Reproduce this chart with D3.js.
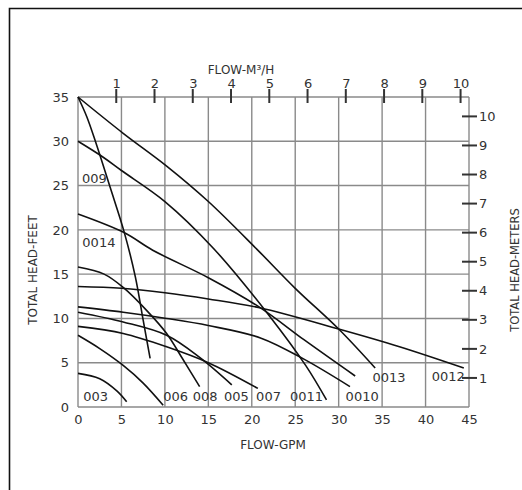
<!DOCTYPE html>
<html>
<head>
<meta charset="utf-8">
<script src="https://cdn.jsdelivr.net/npm/d3@7/dist/d3.min.js"></script>
<style>
  html, body { margin: 0; padding: 0; background: #fff; }
  svg { display: block; }
  text { font-family: "DejaVu Sans", sans-serif; fill: #333; }
</style>
</head>
<body>
<svg id="chart" width="522" height="490"></svg>
<script>
// ---- data ----
const gpmTicks = [0, 5, 10, 15, 20, 25, 30, 35, 40, 45];
const feetTicks = [0, 5, 10, 15, 20, 25, 30, 35];
const m3hTicks = [1, 2, 3, 4, 5, 6, 7, 8, 9, 10];
const meterTicks = [1, 2, 3, 4, 5, 6, 7, 8, 9, 10];

// pump curves: [flow GPM, head feet]
const curve009  = [[0,35],[1,32.8],[2,30],[3.7,24.8],[5.3,19.8],[6.6,14.7],[7.5,9.8],[8.3,5.5]];
const curve0013 = [[0,35],[5.2,30.9],[10.2,27.2],[15,23.2],[20.6,17.8],[25,13.4],[30,8.8],[34.2,4.4]];
const curve0011 = [[0,30],[2.9,28.2],[5,26.7],[10,23.2],[15.6,17.9],[22.1,10.2],[26.2,4.7],[28.6,0.8]];
const curve0014 = [[0,21.8],[5.3,19.7],[8.6,17.7],[15,14.6],[21,11.2],[26,7.6],[31.9,3.5]];
const curve008  = [[0,15.8],[3,15],[5.2,13.5],[8,10.8],[10.2,8.3],[12,5.5],[14,2.3]];
const curve0012 = [[0,13.6],[5,13.4],[10,12.9],[15,12.2],[20.9,11.2],[30,8.8],[37,6.8],[44.4,4.4]];
const curve0010 = [[0,11.3],[5.2,10.7],[10.2,10],[15,9.2],[21,7.8],[26,5.4],[31.3,2.3]];
const curve005  = [[0,10.7],[5.2,9.6],[10.2,8.1],[14,5.6],[17.7,2.5]];
const curve007  = [[0,9.1],[5.2,8.3],[10.2,6.8],[15,5],[20.7,2.1]];
const curve006  = [[0,8.1],[2.5,6.6],[5.2,4.7],[7.5,2.7],[9.8,0.2]];
const curve003  = [[0,3.8],[2.5,3.2],[4.5,1.8],[5.6,0.6]];

const seriesNames = ["009","0013","0011","0014","008","0012","0010","005","007","006","003"];
const seriesData  = [curve009, curve0013, curve0011, curve0014, curve008, curve0012, curve0010, curve005, curve007, curve006, curve003];
// label anchor [GPM, feet] for each series
const labelAt = [[0.45,25.3],[33.9,2.8],[24.4,0.7],[0.5,18.1],[13.2,0.7],[40.7,2.9],[30.8,0.7],[16.8,0.7],[20.5,0.7],[9.8,0.7],[0.6,0.7]];

const GPM_PER_M3H = 4.403;
const FT_PER_M = 3.281;

// ---- drawing ----
const svg = d3.select("#chart");
const x = d3.scaleLinear().domain([0, 45]).range([78, 469]);
const y = d3.scaleLinear().domain([0, 35]).range([407, 97]);
const xTop = d3.scaleLinear().domain([0, 45 / GPM_PER_M3H]).range([78, 469]);
const yRight = d3.scaleLinear().domain([0, 35 / FT_PER_M]).range([407, 97]);

// outer frame
svg.append("path")
  .attr("d", "M9.5,495 V8.5 H530")
  .attr("fill", "none").attr("stroke", "#111").attr("stroke-width", 1.6);

// grid
const grid = svg.append("g").attr("stroke", "#8a8a8a").attr("stroke-width", 1.4);
grid.selectAll("line.v").data(gpmTicks).join("line")
  .attr("x1", d => x(d)).attr("x2", d => x(d)).attr("y1", y(0)).attr("y2", y(35));
grid.selectAll("line.h").data(feetTicks).join("line")
  .attr("y1", d => y(d)).attr("y2", d => y(d)).attr("x1", x(0)).attr("x2", x(45));

const styleTicks = sel => sel.selectAll("text")
  .attr("font-size", 13).attr("font-family", "DejaVu Sans").attr("fill", "#333");

// bottom axis labels
svg.append("g").attr("transform", `translate(0,${y(0)})`)
  .call(d3.axisBottom(x).tickValues(gpmTicks).tickSize(0).tickPadding(8))
  .call(g => g.select(".domain").remove())
  .call(styleTicks);

// left axis labels
svg.append("g").attr("transform", `translate(${x(0)},0)`)
  .call(d3.axisLeft(y).tickValues(feetTicks).tickSize(0).tickPadding(9))
  .call(g => g.select(".domain").remove())
  .call(styleTicks);

// top axis (m3/h)
svg.append("g").attr("transform", `translate(0,${y(35)})`)
  .call(d3.axisTop(xTop).tickValues(m3hTicks).tickSize(0).tickPadding(9))
  .call(g => g.select(".domain").remove())
  .call(styleTicks);
svg.append("g").selectAll("line").data(m3hTicks).join("line")
  .attr("x1", d => xTop(d)).attr("x2", d => xTop(d))
  .attr("y1", y(35) - 8).attr("y2", y(35) + 6)
  .attr("stroke", "#333").attr("stroke-width", 2);

// right axis (meters)
svg.append("g").attr("transform", `translate(${x(45)},0)`)
  .call(d3.axisRight(yRight).tickValues(meterTicks).tickSize(0).tickPadding(10))
  .call(g => g.select(".domain").remove())
  .call(styleTicks);
svg.append("g").selectAll("line").data(meterTicks).join("line")
  .attr("y1", d => yRight(d)).attr("y2", d => yRight(d))
  .attr("x1", x(45) - 7).attr("x2", x(45) + 8)
  .attr("stroke", "#333").attr("stroke-width", 2);

// axis titles
svg.append("text").attr("x", 241).attr("y", 74).attr("text-anchor", "middle")
  .attr("font-size", 12).text("FLOW-M³/H");
svg.append("text").attr("x", 273).attr("y", 449).attr("text-anchor", "middle")
  .attr("font-size", 12).text("FLOW-GPM");
svg.append("text").attr("transform", "translate(37,270) rotate(-90)").attr("text-anchor", "middle")
  .attr("font-size", 12).text("TOTAL HEAD-FEET");
svg.append("text").attr("transform", "translate(519,270) rotate(-90)").attr("text-anchor", "middle")
  .attr("font-size", 11.5).text("TOTAL HEAD-METERS");

// curves
const line = d3.line().x(d => x(d[0])).y(d => y(d[1])).curve(d3.curveCatmullRom.alpha(0.5));
svg.append("g").selectAll("path").data(seriesData).join("path")
  .attr("d", line).attr("fill", "none").attr("stroke", "#111").attr("stroke-width", 1.6);

// curve labels
svg.append("g").selectAll("text").data(seriesNames).join("text")
  .attr("x", (d, i) => x(labelAt[i][0])).attr("y", (d, i) => y(labelAt[i][1]))
  .attr("font-size", 13).text(d => d);
</script>
</body>
</html>
